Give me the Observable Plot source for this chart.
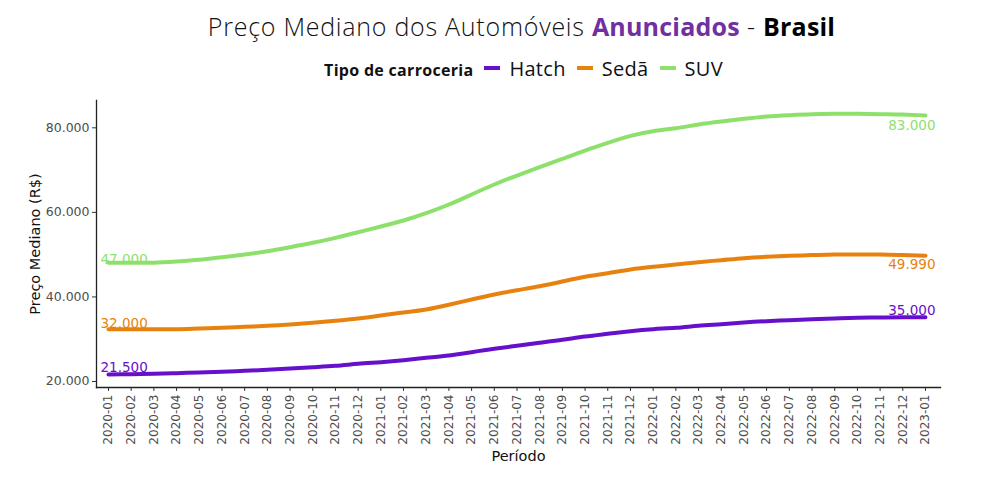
<!DOCTYPE html>
<html>
<head>
<meta charset="utf-8">
<script src="https://cdn.jsdelivr.net/npm/d3@7"></script>
<script src="https://cdn.jsdelivr.net/npm/@observablehq/plot@0.6"></script>
<style>
  html, body { margin: 0; padding: 0; background: #fff; }
  #wrap { position: relative; width: 981px; height: 477px; overflow: hidden; }
  #title { position: absolute; left: 62px; width: 919px; top: 11px; text-align: center;
           font-family: "Open Sans", sans-serif; font-weight: 300; font-size: 25px; line-height: 30px;
           color: #111; letter-spacing: 0.75px; white-space: nowrap; }
  #title .hl { color: #7030a0; font-weight: 700; letter-spacing: 0.2px; }
  #title .bk { color: #000; font-weight: 700; letter-spacing: 0.2px; }
  #legend { position: absolute; left: 66px; width: 926px; top: 57px; text-align: center;
            font-family: "Open Sans", sans-serif; line-height: 24px; white-space: nowrap; color: #111; }
  #legend .lt { font-weight: 700; font-size: 16px; margin-right: 11px; letter-spacing: 0.3px; }
  #legend .it { font-size: 20px; margin-right: 11px; letter-spacing: 0.3px; }
  #legend .sw { display: inline-block; width: 16px; height: 4px; margin-right: 9px; position: relative; top: -6px; }
  #chart { position: absolute; left: 0; top: 90px; }
</style>
</head>
<body>
<div id="wrap">
  <div id="title">Preço Mediano dos Automóveis <span class="hl">Anunciados</span> - <span class="bk">Brasil</span></div>
  <div id="legend"></div>
  <div id="chart"></div>
</div>
<script>
const months = ["2020-01","2020-02","2020-03","2020-04","2020-05","2020-06","2020-07","2020-08","2020-09","2020-10","2020-11","2020-12",
  "2021-01","2021-02","2021-03","2021-04","2021-05","2021-06","2021-07","2021-08","2021-09","2021-10","2021-11","2021-12",
  "2022-01","2022-02","2022-03","2022-04","2022-05","2022-06","2022-07","2022-08","2022-09","2022-10","2022-11","2022-12",
  "2023-01"];

const seriesNames = ["Hatch", "Sedã", "SUV"];
const seriesColors = ["#6610cc", "#e8820e", "#8ee06c"];

const hatch = [21660,21730,21810,21970,22130,22290,22520,22760,23070,23390,23710,24180,
  24570,25040,25600,26150,26930,27730,28440,29150,29860,30640,31280,31900,
  32370,32700,33170,33550,33950,34260,34500,34730,34900,35060,35140,35210,35210];
const seda = [32380,32350,32350,32380,32540,32700,32940,33170,33480,33880,34350,34900,
  35610,36320,37030,38140,39390,40580,41590,42540,43650,44760,45610,46490,
  47120,47670,48230,48700,49170,49500,49730,49890,50040,50040,50040,49890,49730];
const suv = [48070,48070,48100,48380,48780,49400,50040,50820,51770,52800,53980,55310,
  56650,58080,59810,61860,64230,66590,68720,70690,72660,74630,76450,78100,
  79200,79910,80780,81490,82120,82670,82990,83220,83300,83300,83220,83140,82910];

// start / end value labels
const labelSeries = ["Hatch","Sedã","SUV","Hatch","Sedã","SUV"];
const labelMonths = ["2020-01","2020-01","2020-01","2023-01","2023-01","2023-01"];
const labelValues = [21500, 32000, 47000, 35000, 49990, 83000];

const yTicks = [20000, 40000, 60000, 80000];

const values = [hatch, seda, suv];
const rows = [];
seriesNames.forEach((s, k) => months.forEach((m, i) => rows.push({series: s, month: m, value: values[k][i]})));
const labels = labelSeries.map((s, i) => ({series: s, month: labelMonths[i], value: labelValues[i]}));

const loc = d3.formatLocale({decimal: ",", thousands: ".", grouping: [3], currency: ["R$", ""]});
const fmt = loc.format(",.0f");
const colorOf = s => seriesColors[seriesNames.indexOf(s)];

// legend
const leg = document.getElementById("legend");
leg.innerHTML = `<span class="lt">Tipo de carroceria</span>` + seriesNames.map((s, i) =>
  `<span class="sw" style="background:${seriesColors[i]}"></span><span class="it">${s}</span>`).join("");

const startL = labels.filter(d => d.month === months[0]);
const endAbove = labels.filter(d => d.month !== months[0] && d.series === "Hatch");
const endBelow = labels.filter(d => d.month !== months[0] && d.series !== "Hatch");

const chart = Plot.plot({
  width: 981,
  height: 380,
  marginTop: 10,
  marginBottom: 83,
  marginLeft: 96,
  marginRight: 41,
  style: {fontFamily: "DejaVu Sans, sans-serif", background: "transparent", overflow: "visible"},
  x: {type: "point", domain: months, padding: 0.595, align: 0.444, round: false},
  y: {domain: [18580, 86460]},
  color: {domain: seriesNames, range: seriesColors},
  marks: [
    Plot.axisY({ticks: yTicks, tickFormat: fmt, tickSize: 4, tickPadding: 3, fontSize: 12.5,
      fill: "#4d4d4d", stroke: "#333", label: null}),
    Plot.axisX({tickRotate: -90, tickSize: 4, tickPadding: 3, fontSize: 12,
      fill: "#4d4d4d", stroke: "#333", label: null}),
    Plot.frame({anchor: "left", stroke: "#222", strokeWidth: 1.3}),
    Plot.frame({anchor: "bottom", stroke: "#222", strokeWidth: 1.3}),
    Plot.text(["Preço Mediano (R$)"], {frameAnchor: "left", textAnchor: "middle", lineAnchor: "middle",
      dx: -61, rotate: -90, fontSize: 14.5, fill: "#111"}),
    Plot.text(["Período"], {frameAnchor: "bottom", textAnchor: "middle", lineAnchor: "middle",
      dy: 69, fontSize: 14.5, fill: "#111"}),
    Plot.line(rows, {x: "month", y: "value", stroke: "series", z: "series", strokeWidth: 4, curve: "natural"}),
    Plot.text(startL, {x: "month", y: "value", text: d => fmt(d.value), fill: d => colorOf(d.series),
      textAnchor: "start", lineAnchor: "bottom", dx: -8, dy: -3, fontSize: 13.5}),
    Plot.text(endAbove, {x: "month", y: "value", text: d => fmt(d.value), fill: d => colorOf(d.series),
      textAnchor: "end", lineAnchor: "bottom", dx: 10, dy: -3, fontSize: 13.5}),
    Plot.text(endBelow, {x: "month", y: "value", text: d => fmt(d.value), fill: d => colorOf(d.series),
      textAnchor: "end", lineAnchor: "top", dx: 10, dy: 5, fontSize: 13.5})
  ]
});
document.getElementById("chart").appendChild(chart);
</script>
</body>
</html>
